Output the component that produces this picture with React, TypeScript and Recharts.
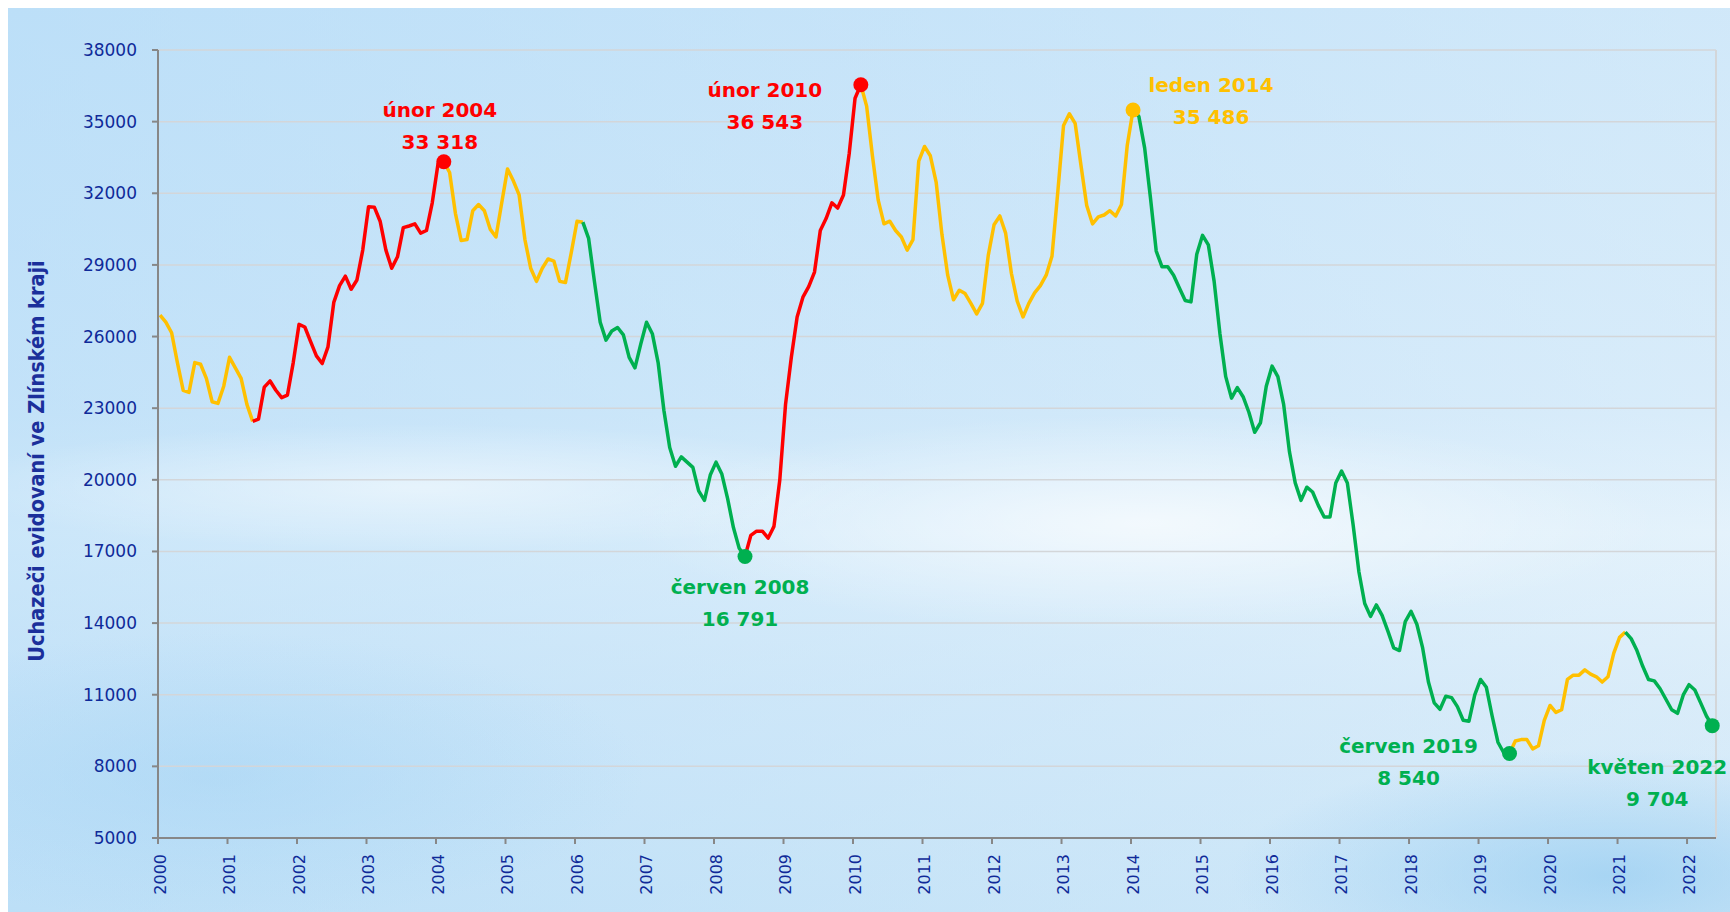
import { CartesianGrid, Line, LineChart, ReferenceDot, ReferenceLine, XAxis, YAxis } from 'recharts'

const YELLOW = '#ffc000'
const RED = '#ff0000'
const GREEN = '#00b050'
const AXIS = '#878787'
const GRID = '#d3d6d9'
const INK = '#0f2a99'

const W = 1722
const H = 904
// points sit a little after the January tick, like the original
const SHIFT = 0.35

const years = [
  2000, 2001, 2002, 2003, 2004, 2005, 2006, 2007, 2008, 2009, 2010, 2011,
  2012, 2013, 2014, 2015, 2016, 2017, 2018, 2019, 2020, 2021, 2022,
]

// monthly counts, Jan..Dec
const v2000 = [26900, 26600, 26160, 24910, 23750, 23660, 24910, 24840, 24250, 23270, 23200, 23920]
const v2001 = [25130, 24690, 24250, 23160, 22450, 22540, 23880, 24140, 23750, 23440, 23550, 24910]
const v2002 = [26510, 26400, 25790, 25190, 24870, 25570, 27430, 28130, 28530, 27980, 28370, 29620]
const v2003 = [31440, 31420, 30830, 29620, 28860, 29340, 30560, 30630, 30720, 30330, 30440, 31600]
const v2004 = [33240, 33318, 32870, 31160, 30020, 30060, 31270, 31530, 31270, 30500, 30170, 31600]
const v2005 = [33020, 32520, 31930, 30060, 28860, 28310, 28860, 29250, 29160, 28310, 28260, 29510]
const v2006 = [30830, 30790, 30110, 28310, 26600, 25850, 26230, 26380, 26070, 25130, 24690, 25680]
const v2007 = [26600, 26120, 24910, 22900, 21350, 20570, 20960, 20740, 20520, 19540, 19140, 20200]
const v2008 = [20740, 20240, 19210, 18000, 17130, 16791, 17670, 17850, 17850, 17560, 18050, 19980]
const v2009 = [23160, 25130, 26820, 27650, 28090, 28700, 30440, 30940, 31600, 31380, 31930, 33680]
const v2010 = [35980, 36543, 35650, 33570, 31710, 30720, 30830, 30440, 30170, 29620, 30060, 33350]
const v2011 = [33960, 33570, 32470, 30280, 28570, 27540, 27940, 27800, 27390, 26950, 27390, 29400]
const v2012 = [30680, 31050, 30330, 28640, 27480, 26820, 27390, 27830, 28130, 28570, 29360, 32040]
const v2013 = [34840, 35330, 34930, 33180, 31490, 30720, 31010, 31090, 31270, 31050, 31530, 34010]
const v2014 = [35486, 35220, 33900, 31820, 29580, 28920, 28920, 28570, 28030, 27510, 27450, 29450]
const v2015 = [30240, 29840, 28310, 26120, 24320, 23420, 23860, 23480, 22830, 21990, 22390, 23920]
const v2016 = [24760, 24320, 23160, 21180, 19870, 19140, 19690, 19490, 18920, 18440, 18440, 19870]
const v2017 = [20370, 19870, 18110, 16140, 14820, 14280, 14760, 14320, 13660, 12960, 12850, 14060]
const v2018 = [14490, 13950, 12960, 11530, 10660, 10390, 10940, 10880, 10500, 9930, 9890, 10990]
const v2019 = [11640, 11310, 10110, 9010, 8570, 8540, 9060, 9120, 9120, 8730, 8860, 9930]
const v2020 = [10550, 10260, 10370, 11640, 11820, 11820, 12040, 11860, 11750, 11530, 11750, 12740]
const v2021 = [13400, 13620, 13350, 12850, 12190, 11640, 11580, 11250, 10810, 10370, 10220, 10990]
const v2022 = [11420, 11200, 10660, 10110, 9704]

const values = [
  ...v2000, ...v2001, ...v2002, ...v2003, ...v2004, ...v2005, ...v2006, ...v2007,
  ...v2008, ...v2009, ...v2010, ...v2011, ...v2012, ...v2013, ...v2014, ...v2015,
  ...v2016, ...v2017, ...v2018, ...v2019, ...v2020, ...v2021, ...v2022,
]

// month index ranges (from Jan 2000) drawn in each colour
const yellowPeriods = [[0, 16], [49, 73], [121, 168], [233, 253]]
const redPeriods = [[16, 49], [101, 121]]
const greenPeriods = [[73, 101], [168, 233], [253, 268]]

const yTicks = [5000, 8000, 11000, 14000, 17000, 20000, 23000, 26000, 29000, 32000, 35000, 38000]

const highlights = [
  { month: 49, name: 'únor 2004', color: RED },
  { month: 101, name: 'červen 2008', color: GREEN },
  { month: 121, name: 'únor 2010', color: RED },
  { month: 168, name: 'leden 2014', color: YELLOW },
  { month: 233, name: 'červen 2019', color: GREEN },
  { month: 268, name: 'květen 2022', color: GREEN },
]

// where each two-line label sits relative to its dot
const labelOffsets = [
  { dx: -4, dy: -52 },
  { dx: -5, dy: 31 },
  { dx: -96, dy: 5 },
  { dx: 78, dy: -25 },
  { dx: -101, dy: -7 },
  { dx: -55, dy: 41 },
]

const inRanges = (ranges: number[][], i: number) => ranges.some(([a, b]) => i >= a && i <= b)

const data = values.map((v, i) => ({
  t: i + SHIFT,
  yellow: inRanges(yellowPeriods, i) ? v : null,
  red: inRanges(redPeriods, i) ? v : null,
  green: inRanges(greenPeriods, i) ? v : null,
}))

const fmt = (n: number) => String(n).replace(/\B(?=(\d{3})+(?!\d))/g, ' ')

const FONT = "'DejaVu Sans', Verdana, sans-serif"

function YearTick({ x, y, payload }: any) {
  const label = years[Math.round(payload.value / 12)]
  return (
    <text
      x={x + 2}
      y={y}
      transform={`rotate(-90 ${x + 2} ${y})`}
      textAnchor="end"
      dominantBaseline="central"
      fill={INK}
      fontSize={16}
      fontFamily={FONT}
    >
      {label}
    </text>
  )
}

function AxisTitle({ viewBox }: any) {
  const cx = 28
  const cy = viewBox.y + viewBox.height / 2 + 17
  return (
    <text
      x={cx}
      y={cy}
      transform={`rotate(-90 ${cx} ${cy})`}
      textAnchor="middle"
      dominantBaseline="central"
      fill="#1b2f9b"
      fontSize={21.5}
      fontWeight="bold"
      fontFamily="'DejaVu Sans Condensed', 'DejaVu Sans', sans-serif"
      style={{ fontStretch: 'condensed' }}
    >
      Uchazeči evidovaní ve Zlínském kraji
    </text>
  )
}

function highlightShape(h: (typeof highlights)[number], off: { dx: number; dy: number }) {
  return (p: any) => (
    <g>
      <circle cx={p.cx} cy={p.cy} r={7.5} fill={h.color} />
      <text
        x={p.cx + off.dx}
        textAnchor="middle"
        fill={h.color}
        fontSize={20}
        fontWeight="bold"
        fontFamily={FONT}
      >
        <tspan x={p.cx + off.dx} y={p.cy + off.dy} dominantBaseline="central">
          {h.name}
        </tspan>
        <tspan x={p.cx + off.dx} y={p.cy + off.dy + 32} dominantBaseline="central">
          {fmt(values[h.month])}
        </tspan>
      </text>
    </g>
  )
}

const background = [
  'radial-gradient(ellipse 30% 12% at 66% 57%, rgba(255,255,255,0.65), rgba(255,255,255,0) 100%)',
  'radial-gradient(ellipse 28% 7% at 24% 53%, rgba(255,255,255,0.5), rgba(255,255,255,0) 100%)',
  'radial-gradient(ellipse 22% 14% at 93% 96%, rgba(140,200,240,0.6), rgba(140,200,240,0) 100%)',
  'radial-gradient(ellipse 25% 16% at 12% 85%, rgba(160,210,244,0.45), rgba(160,210,244,0) 100%)',
  'linear-gradient(to right, rgba(180,220,248,0.5), rgba(232,244,252,0.35))',
  'linear-gradient(to bottom, #c4e2f8 0%, #d1e8f9 45%, #e2f1fb 58%, #d2e8f8 76%, #c4e2f6 100%)',
].join(', ')

export default function App() {
  return (
    <div style={{ position: 'fixed', left: 8, top: 8, width: W, height: H, background }}>
      <LineChart width={W} height={H} data={data} margin={{ top: 42, right: 14, left: 0, bottom: 0 }}>
        <CartesianGrid horizontal vertical={false} stroke={GRID} strokeWidth={1.5} />
        <XAxis
          dataKey="t"
          type="number"
          domain={[0, 269]}
          ticks={years.map((_, k) => k * 12)}
          interval={0}
          height={74}
          stroke={AXIS}
          strokeWidth={2}
          tickSize={6}
          tickMargin={10}
          tick={<YearTick />}
        />
        <YAxis
          type="number"
          domain={[5000, 38000]}
          ticks={yTicks}
          interval={0}
          width={150}
          stroke={AXIS}
          strokeWidth={2}
          tickSize={6}
          tickMargin={15}
          tick={{ fill: INK, fontSize: 17, fontFamily: FONT }}
          label={<AxisTitle />}
        />
        <ReferenceLine x={269} stroke={GRID} strokeWidth={2} />
        <Line dataKey="yellow" stroke={YELLOW} strokeWidth={3.5} dot={false} activeDot={false} strokeLinejoin="round" isAnimationActive={false} />
        <Line dataKey="red" stroke={RED} strokeWidth={3.5} dot={false} activeDot={false} strokeLinejoin="round" isAnimationActive={false} />
        <Line dataKey="green" stroke={GREEN} strokeWidth={3.5} dot={false} activeDot={false} strokeLinejoin="round" isAnimationActive={false} />
        {highlights.map((h, k) => (
          <ReferenceDot
            key={h.month}
            x={h.month + SHIFT}
            y={values[h.month]}
            r={7.5}
            shape={highlightShape(h, labelOffsets[k])}
          />
        ))}
      </LineChart>
    </div>
  )
}
